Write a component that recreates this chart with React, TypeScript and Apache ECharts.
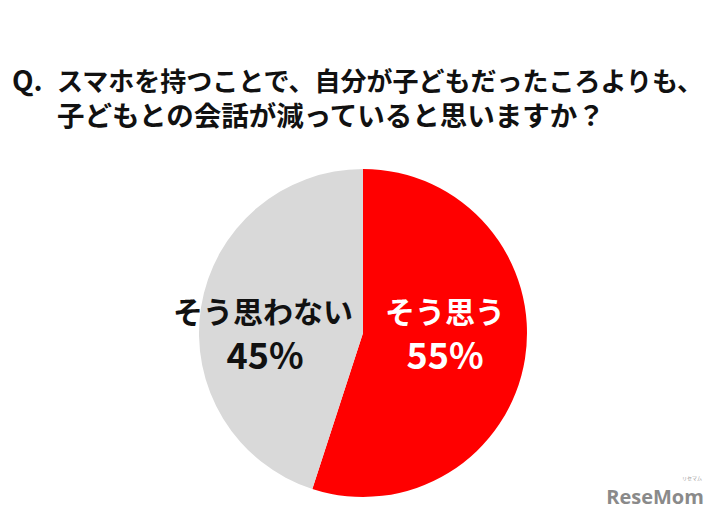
import React, { useEffect, useRef } from "react";
import * as echarts from "echarts";

const titlePrefix = "Q.";
const titleLines = [
  "スマホを持つことで、自分が子どもだったころよりも、",
  "子どもとの会話が減っていると思いますか？",
];
const categories = ["そう思う", "そう思わない"];
const values = [55, 45];
const colors = ["#ff0000", "#d9d9d9"];
const labelColors = ["#ffffff", "#111111"];

export default function App() {
  const ref = useRef<HTMLDivElement>(null);
  useEffect(() => {
    if (!ref.current) return;
    const chart = echarts.init(ref.current, null, { renderer: "svg" });
    const font = "'Noto Sans CJK JP', sans-serif";
    const txt = (x: number, y: number, text: string, f: string, fill: string, align = "center") => ({
      type: "text",
      x,
      y,
      z: 100,
      style: { text, font: f, fill, align, verticalAlign: "middle" },
    });
    chart.setOption({
      animation: false,
      backgroundColor: "#ffffff",
      series: [
        {
          type: "pie",
          center: [363, 333],
          radius: [0, 164],
          startAngle: 90,
          clockwise: true,
          z: 1,
          label: { show: false },
          labelLine: { show: false },
          emphasis: { disabled: true },
          itemStyle: { borderWidth: 0 },
          data: categories.map((c, i) => ({
            name: c,
            value: values[i],
            itemStyle: { color: colors[i] },
          })),
        },
      ],
      graphic: [
        txt(12, 79, titlePrefix, `bold 28px ${font}`, "#111", "left"),
        txt(57, 79, titleLines[0], `bold 26px ${font}`, "#111", "left"),
        txt(57, 114, titleLines[1], `bold 27.5px ${font}`, "#111", "left"),
        txt(445, 310, categories[0], `bold 30px ${font}`, labelColors[0]),
        txt(445, 353, values[0] + "%", `bold 36px ${font}`, labelColors[0]),
        txt(263, 310, categories[1], `bold 30px ${font}`, labelColors[1]),
        txt(265, 353, values[1] + "%", `bold 36px ${font}`, labelColors[1]),
        txt(692, 477, "リセマム", `5px ${font}`, "#999"),
        txt(655, 496, "ReseMom", "bold 20px 'Open Sans', sans-serif", "#8a8a8a"),
      ],
    });
    return () => chart.dispose();
  }, []);
  return (
    <div
      ref={ref}
      style={{ position: "fixed", left: 0, top: 0, width: 721, height: 515 }}
    />
  );
}
